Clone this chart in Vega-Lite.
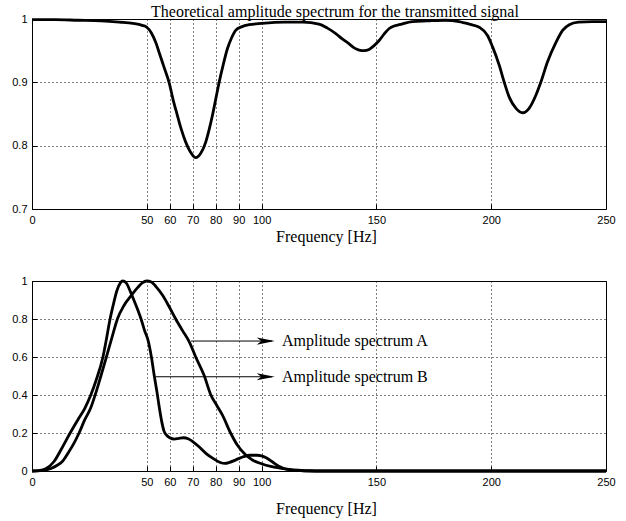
{
  "$schema": "https://vega.github.io/schema/vega-lite/v6.json",
  "background": "white",
  "padding": {"left": 11, "top": 3, "right": 5, "bottom": 5},
  "spacing": 72,
  "bounds": "flush",
  "config": {
    "view": {"stroke": "black", "strokeWidth": 1},
    "axis": {
      "grid": true, "gridColor": "black", "gridDash": [1, 3], "gridOpacity": 1, "gridWidth": 1,
      "domain": false, "ticks": true, "tickColor": "black", "tickSize": -5, "tickWidth": 1,
      "labelFont": "Liberation Sans", "labelFontSize": 11, "labelColor": "black",
      "labelFlush": false, "labelOverlap": false,
      "titleFont": "Liberation Serif, Times New Roman, serif", "titleFontSize": 16, "titleFontWeight": "normal", "titleColor": "black"
    }
  },
  "datasets": {
    "top": [
      {"f": 0, "a": 0.999}, {"f": 10, "a": 0.999}, {"f": 20, "a": 0.998}, {"f": 30, "a": 0.997},
      {"f": 38, "a": 0.995}, {"f": 44, "a": 0.993}, {"f": 48, "a": 0.99}, {"f": 50, "a": 0.987},
      {"f": 52, "a": 0.978}, {"f": 54, "a": 0.962}, {"f": 55.3, "a": 0.948}, {"f": 57.5, "a": 0.924},
      {"f": 59.7, "a": 0.9}, {"f": 61.5, "a": 0.872}, {"f": 63.3, "a": 0.848}, {"f": 65, "a": 0.826},
      {"f": 66.9, "a": 0.806}, {"f": 69, "a": 0.79}, {"f": 71.3, "a": 0.781}, {"f": 73.5, "a": 0.788},
      {"f": 75.7, "a": 0.806}, {"f": 77.2, "a": 0.826}, {"f": 78.6, "a": 0.848}, {"f": 80, "a": 0.873},
      {"f": 81.5, "a": 0.9}, {"f": 83.3, "a": 0.928}, {"f": 85.1, "a": 0.953}, {"f": 86.9, "a": 0.97},
      {"f": 88.7, "a": 0.982}, {"f": 91.5, "a": 0.988}, {"f": 94.6, "a": 0.991}, {"f": 100, "a": 0.993},
      {"f": 110, "a": 0.995}, {"f": 118, "a": 0.995}, {"f": 125, "a": 0.992}, {"f": 128.5, "a": 0.986},
      {"f": 132.3, "a": 0.977}, {"f": 135, "a": 0.969}, {"f": 138, "a": 0.961}, {"f": 140.5, "a": 0.954},
      {"f": 142.5, "a": 0.951}, {"f": 144.6, "a": 0.95}, {"f": 146.8, "a": 0.952}, {"f": 149, "a": 0.958},
      {"f": 151.2, "a": 0.966}, {"f": 153.5, "a": 0.977}, {"f": 155.6, "a": 0.985}, {"f": 157.7, "a": 0.989},
      {"f": 159.9, "a": 0.991}, {"f": 165.7, "a": 0.996}, {"f": 172, "a": 0.997}, {"f": 180, "a": 0.998},
      {"f": 186, "a": 0.996}, {"f": 190.4, "a": 0.992}, {"f": 194.8, "a": 0.987}, {"f": 198.4, "a": 0.974},
      {"f": 200.6, "a": 0.956}, {"f": 203.5, "a": 0.927}, {"f": 205.7, "a": 0.9}, {"f": 207.8, "a": 0.877},
      {"f": 210.8, "a": 0.859}, {"f": 213.7, "a": 0.852}, {"f": 216.5, "a": 0.859}, {"f": 219.5, "a": 0.88},
      {"f": 221.6, "a": 0.9}, {"f": 224.5, "a": 0.932}, {"f": 228.2, "a": 0.963}, {"f": 231.1, "a": 0.982},
      {"f": 234, "a": 0.991}, {"f": 238, "a": 0.995}, {"f": 244, "a": 0.996}, {"f": 250, "a": 0.996}
    ],
    "bottom": [
      {"s": "A", "f": 0, "a": 0}, {"s": "A", "f": 4, "a": 0.002}, {"s": "A", "f": 8, "a": 0.012},
      {"s": "A", "f": 11, "a": 0.03}, {"s": "A", "f": 13.2, "a": 0.05}, {"s": "A", "f": 16, "a": 0.1},
      {"s": "A", "f": 18, "a": 0.14}, {"s": "A", "f": 20.5, "a": 0.2}, {"s": "A", "f": 23, "a": 0.27},
      {"s": "A", "f": 25.5, "a": 0.33}, {"s": "A", "f": 27.5, "a": 0.4}, {"s": "A", "f": 30, "a": 0.5},
      {"s": "A", "f": 32.4, "a": 0.6}, {"s": "A", "f": 35, "a": 0.71}, {"s": "A", "f": 37.2, "a": 0.8},
      {"s": "A", "f": 40, "a": 0.87}, {"s": "A", "f": 43, "a": 0.92}, {"s": "A", "f": 46, "a": 0.965},
      {"s": "A", "f": 48, "a": 0.99}, {"s": "A", "f": 50, "a": 1.0}, {"s": "A", "f": 52, "a": 0.995},
      {"s": "A", "f": 54, "a": 0.97}, {"s": "A", "f": 56.8, "a": 0.926}, {"s": "A", "f": 59.5, "a": 0.87},
      {"s": "A", "f": 62.6, "a": 0.8}, {"s": "A", "f": 65.5, "a": 0.74}, {"s": "A", "f": 68.5, "a": 0.68},
      {"s": "A", "f": 71.3, "a": 0.6}, {"s": "A", "f": 74.9, "a": 0.505}, {"s": "A", "f": 77.9, "a": 0.4},
      {"s": "A", "f": 80.5, "a": 0.345}, {"s": "A", "f": 82.9, "a": 0.295}, {"s": "A", "f": 86.5, "a": 0.2},
      {"s": "A", "f": 89.5, "a": 0.135}, {"s": "A", "f": 93, "a": 0.085}, {"s": "A", "f": 96, "a": 0.058},
      {"s": "A", "f": 100, "a": 0.038}, {"s": "A", "f": 104, "a": 0.024}, {"s": "A", "f": 108, "a": 0.015},
      {"s": "A", "f": 112, "a": 0.008}, {"s": "A", "f": 116, "a": 0.004}, {"s": "A", "f": 120, "a": 0.002},
      {"s": "A", "f": 125, "a": 0}, {"s": "A", "f": 250, "a": 0},
      {"s": "B", "f": 0, "a": 0}, {"s": "B", "f": 3, "a": 0.002}, {"s": "B", "f": 6, "a": 0.012},
      {"s": "B", "f": 9.6, "a": 0.05}, {"s": "B", "f": 13, "a": 0.12}, {"s": "B", "f": 16.6, "a": 0.2},
      {"s": "B", "f": 20, "a": 0.27}, {"s": "B", "f": 23, "a": 0.33}, {"s": "B", "f": 25.6, "a": 0.4},
      {"s": "B", "f": 28, "a": 0.48}, {"s": "B", "f": 30.9, "a": 0.6}, {"s": "B", "f": 32.5, "a": 0.7},
      {"s": "B", "f": 34, "a": 0.8}, {"s": "B", "f": 35.5, "a": 0.88}, {"s": "B", "f": 37, "a": 0.95},
      {"s": "B", "f": 38.5, "a": 0.99}, {"s": "B", "f": 39.5, "a": 1.0}, {"s": "B", "f": 41, "a": 0.99},
      {"s": "B", "f": 43, "a": 0.94}, {"s": "B", "f": 44, "a": 0.91}, {"s": "B", "f": 46, "a": 0.85},
      {"s": "B", "f": 47.5, "a": 0.8}, {"s": "B", "f": 49, "a": 0.74}, {"s": "B", "f": 50.5, "a": 0.69},
      {"s": "B", "f": 52, "a": 0.6}, {"s": "B", "f": 53.2, "a": 0.505}, {"s": "B", "f": 54.5, "a": 0.41},
      {"s": "B", "f": 55.5, "a": 0.33}, {"s": "B", "f": 56.5, "a": 0.26}, {"s": "B", "f": 57.5, "a": 0.21},
      {"s": "B", "f": 58.5, "a": 0.19}, {"s": "B", "f": 60, "a": 0.175}, {"s": "B", "f": 62, "a": 0.168},
      {"s": "B", "f": 64, "a": 0.172}, {"s": "B", "f": 66, "a": 0.175}, {"s": "B", "f": 68, "a": 0.17},
      {"s": "B", "f": 70, "a": 0.155}, {"s": "B", "f": 73, "a": 0.125}, {"s": "B", "f": 76, "a": 0.09},
      {"s": "B", "f": 79, "a": 0.065}, {"s": "B", "f": 82, "a": 0.045}, {"s": "B", "f": 84, "a": 0.04},
      {"s": "B", "f": 86, "a": 0.045}, {"s": "B", "f": 89, "a": 0.06}, {"s": "B", "f": 92, "a": 0.075},
      {"s": "B", "f": 95, "a": 0.083}, {"s": "B", "f": 98, "a": 0.083}, {"s": "B", "f": 100, "a": 0.08},
      {"s": "B", "f": 102, "a": 0.07}, {"s": "B", "f": 104.5, "a": 0.05}, {"s": "B", "f": 107.5, "a": 0.025},
      {"s": "B", "f": 110, "a": 0.012}, {"s": "B", "f": 113, "a": 0.005}, {"s": "B", "f": 117, "a": 0.002},
      {"s": "B", "f": 120, "a": 0}, {"s": "B", "f": 250, "a": 0}
    ],
    "arrows": [
      {"x": 69.3, "x2": 104.5, "tip": 101.8, "tx": 108.9, "y": 0.684, "label": "Amplitude spectrum A"},
      {"x": 53.9, "x2": 104.5, "tip": 101.8, "tx": 108.9, "y": 0.496, "label": "Amplitude spectrum B"}
    ]
  },
  "vconcat": [
    {
      "width": 574,
      "height": 190,
      "title": {
        "text": "Theoretical amplitude spectrum for the transmitted signal",
        "font": "Liberation Serif", "fontSize": 16, "fontWeight": "normal", "color": "black",
        "anchor": "start", "frame": "group", "dx": 119, "offset": -20, "baseline": "alphabetic"
      },
      "data": {"name": "top"},
      "mark": {"type": "line", "color": "black", "strokeWidth": 2.8, "interpolate": "monotone"},
      "encoding": {
        "x": {
          "field": "f", "type": "quantitative",
          "scale": {"domain": [0, 250], "nice": false},
          "axis": {"values": [0, 50, 60, 70, 80, 90, 100, 150, 200, 250], "format": "d", "title": "Frequency [Hz]", "labelPadding": 10, "titlePadding": 3, "titleX": 294}
        },
        "y": {
          "field": "a", "type": "quantitative",
          "scale": {"domain": [0.7, 1], "nice": false, "zero": false},
          "axis": {"values": [0.7, 0.8, 0.9, 1], "format": "~g", "title": null, "labelPadding": 10}
        }
      }
    },
    {
      "width": 574,
      "height": 190,
      "encoding": {
        "x": {
          "field": "f", "type": "quantitative",
          "scale": {"domain": [0, 250], "nice": false},
          "axis": {"values": [0, 50, 60, 70, 80, 90, 100, 150, 200, 250], "format": "d", "title": "Frequency [Hz]", "labelPadding": 10, "titlePadding": 13, "titleX": 294}
        },
        "y": {
          "field": "a", "type": "quantitative",
          "scale": {"domain": [0, 1], "nice": false},
          "axis": {"values": [0, 0.2, 0.4, 0.6, 0.8, 1], "format": "~g", "title": null, "labelPadding": 10}
        }
      },
      "layer": [
        {
          "data": {"name": "bottom"},
          "mark": {"type": "line", "color": "black", "strokeWidth": 2.8, "interpolate": "monotone"},
          "encoding": {"detail": {"field": "s", "type": "nominal"}}
        },
        {
          "data": {"name": "arrows"},
          "mark": {"type": "rule", "color": "black", "strokeWidth": 1},
          "encoding": {
            "x": {"field": "x", "type": "quantitative"},
            "x2": {"field": "x2"},
            "y": {"field": "y", "type": "quantitative"}
          }
        },
        {
          "data": {"name": "arrows"},
          "mark": {"type": "point", "shape": "M-1,-0.4L1,0L-1,0.4L-0.5,0Z", "filled": true, "color": "black", "opacity": 1, "size": 324},
          "encoding": {
            "x": {"field": "tip", "type": "quantitative"},
            "y": {"field": "y", "type": "quantitative"}
          }
        },
        {
          "data": {"name": "arrows"},
          "mark": {"type": "text", "align": "left", "baseline": "middle", "font": "Liberation Serif", "fontSize": 16, "color": "black"},
          "encoding": {
            "x": {"field": "tx", "type": "quantitative"},
            "y": {"field": "y", "type": "quantitative"},
            "text": {"field": "label", "type": "nominal"}
          }
        }
      ]
    }
  ]
}
